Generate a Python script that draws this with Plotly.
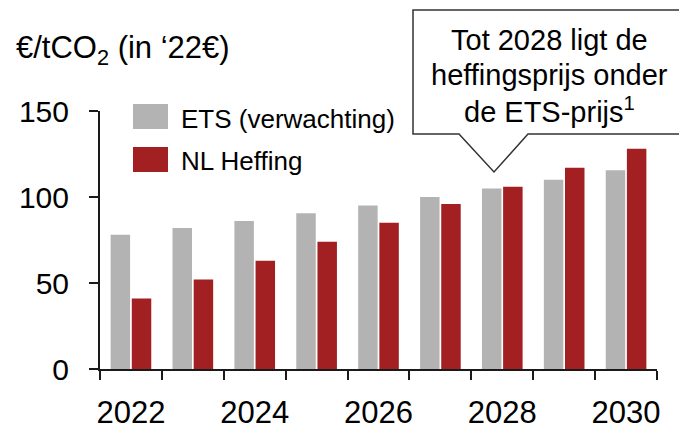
import plotly.graph_objects as go

years = [2022, 2023, 2024, 2025, 2026, 2027, 2028, 2029, 2030]
ets_values = [78, 82, 86, 90.5, 95, 100, 105, 110, 115.5]
nl_values = [41, 52, 63, 74, 85, 96, 106, 117, 128]
year_labels = ["2022", "2024", "2026", "2028", "2030"]
label_years = [2022, 2024, 2026, 2028, 2030]
boundaries = [2021.5, 2022.5, 2023.5, 2024.5, 2025.5, 2026.5, 2027.5, 2028.5, 2029.5, 2030.5]
y_ticks = [0, 50, 100, 150]
series_names = ["ETS (verwachting)", "NL Heffing"]
callout_lines = ["Tot 2028 ligt de", "heffingsprijs onder", "de ETS-prijs<sup>1</sup>"]
title_text = "€/tCO<sub>2</sub> (in ‘22€)"

GRAY = "#B3B3B3"
RED = "#A21F22"
AXIS = "#1a1a1a"
FONT = "Arial, Liberation Sans, sans-serif"

# page body has an 8px margin, so the figure is offset by 8px in the window
OFF = 8
WIN_W, WIN_H = 687, 423
W, H = WIN_W - OFF, WIN_H - OFF
# plot area in window pixels
X0, X1, Y0, Y1 = 100, 657, 111, 369
L, R, T, B = X0 - OFF, WIN_W - X1, Y0 - OFF, WIN_H - Y1
pw, ph = X1 - X0, Y1 - Y0


def px(x):
    return (x - X0) / pw


def py(y):
    return (Y1 - y) / ph


fig = go.Figure()
fig.add_trace(go.Bar(x=years, y=ets_values, name=series_names[0],
                     marker=dict(color=GRAY, line=dict(width=0))))
fig.add_trace(go.Bar(x=years, y=nl_values, name=series_names[1],
                     marker=dict(color=RED, line=dict(width=0))))

shapes = []
annotations = []

# legend swatches
shapes.append(dict(type="rect", xref="paper", yref="paper",
                   x0=px(133), x1=px(168), y0=py(129), y1=py(104),
                   fillcolor=GRAY, line=dict(width=0)))
shapes.append(dict(type="rect", xref="paper", yref="paper",
                   x0=px(133), x1=px(168), y0=py(172), y1=py(147),
                   fillcolor=RED, line=dict(width=0)))
annotations.append(dict(text=series_names[0], xref="paper", yref="paper",
                        x=px(179), y=py(119), xanchor="left", yanchor="middle",
                        showarrow=False, font=dict(size=26, color="black", family=FONT)))
annotations.append(dict(text=series_names[1], xref="paper", yref="paper",
                        x=px(179), y=py(161), xanchor="left", yanchor="middle",
                        showarrow=False, font=dict(size=26, color="black", family=FONT)))

# callout box
path = (f"M {px(459)},{py(134)} L {px(413)},{py(134)} L {px(413)},{py(10)} "
        f"L {px(685)},{py(10)} L {px(685)},{py(134)} L {px(528)},{py(134)} "
        f"L {px(494)},{py(172)} Z")
shapes.append(dict(type="path", xref="paper", yref="paper", path=path,
                   fillcolor="white", line=dict(color="#333333", width=1.5)))
for line, yc in zip(callout_lines, [40, 75, 110]):
    annotations.append(dict(text=line, xref="paper", yref="paper",
                            x=px(549), y=py(yc), xanchor="center", yanchor="middle",
                            showarrow=False, font=dict(size=29, color="black", family=FONT)))

# title
annotations.append(dict(text=title_text, xref="paper", yref="paper",
                        x=px(14), y=py(50), xanchor="left", yanchor="middle",
                        showarrow=False, font=dict(size=31, color="black", family=FONT)))

fig.update_layout(
    width=W, height=H,
    margin=dict(l=L, r=R, t=T, b=B, autoexpand=False),
    paper_bgcolor="white", plot_bgcolor="white",
    barmode="group", bargap=0.316, bargroupgap=0.08,
    showlegend=False,
    font=dict(family=FONT, color="black"),
    shapes=shapes, annotations=annotations,
    xaxis=dict(range=[2021.5, 2030.5], tickvals=label_years, ticktext=year_labels,
               ticks="outside", ticklen=9, tickcolor="rgba(0,0,0,0)",
               showgrid=False, zeroline=False, automargin=False,
               showline=True, linecolor=AXIS, linewidth=2,
               tickfont=dict(size=31, family=FONT, color="black"),
               ticklabelstandoff=6,
               minor=dict(tickmode="array", tickvals=boundaries, ticks="outside",
                          ticklen=9, tickwidth=2, tickcolor=AXIS, showgrid=False)),
    yaxis=dict(range=[0, 150], tickvals=y_ticks, ticks="outside", ticklen=9,
               tickwidth=2, tickcolor=AXIS, showgrid=False, zeroline=False,
               automargin=False,
               showline=True, linecolor=AXIS, linewidth=2,
               tickfont=dict(size=30, family=FONT, color="black"),
               ticklabelstandoff=14),
)

fig.write_html("out.html")
